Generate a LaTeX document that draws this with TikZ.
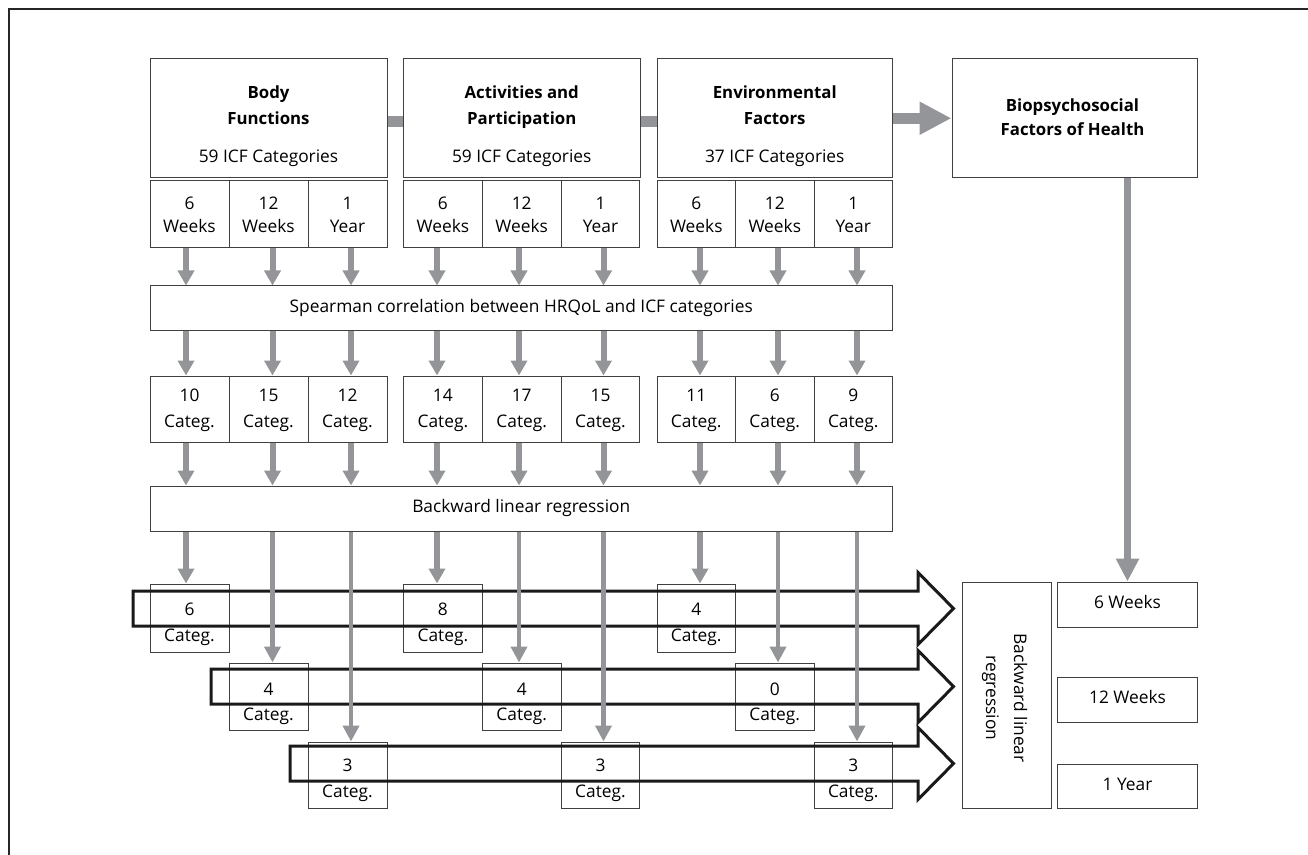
\documentclass[tikz,border=0pt]{standalone}
\usepackage{fontspec}
\setmainfont{Open Sans}
\usetikzlibrary{arrows.meta,calc}
\newlength\pxu
\setlength\pxu{0.75pt}
\definecolor{arrowgray}{RGB}{147,149,152}
\definecolor{boxline}{RGB}{64,64,64}
\definecolor{bigline}{RGB}{26,26,26}
\begin{document}
\begin{tikzpicture}[x=0.75pt,y=-0.75pt,
  box/.style={draw=boxline, line width=1\pxu, inner sep=0pt},
  txt/.style={inner sep=0pt, text height=0.72em, text depth=0pt, font=\fontsize{13}{15}\selectfont},
  btxt/.style={inner sep=0pt, text height=0.72em, text depth=0pt, font=\fontsize{12.6}{15}\selectfont\bfseries},
  garrow/.style={draw=arrowgray, line width=4.5pt, -{Triangle[width=12pt,length=11.25pt]}},
  glong/.style={draw=arrowgray, line width=3.4pt, -{Triangle[width=12pt,length=12pt]}},
  gbar/.style={draw=arrowgray, line width=8.25pt},
  gbig/.style={draw=arrowgray, line width=8.25pt, -{Triangle[width=23.25pt,length=24pt]}},
  gbio/.style={draw=arrowgray, line width=5.25pt, -{Triangle[width=16.5pt,length=17.25pt]}},
  bigarrow/.style={draw=bigline, line width=2.25pt, line join=miter},
  frame/.style={draw=black!85, line width=1.5pt}
]
\useasboundingbox (0,0) rectangle (1308,855);
% outer frame (only left and top edges visible)
\draw[frame] (8.5,855) -- (8.5,9.5) -- (1308,9.5);

% top boxes
\node[box, minimum width=237\pxu, minimum height=119.5\pxu] (bf) at (268.5,118.25) {};
\node[box, minimum width=236.5\pxu, minimum height=119.5\pxu] (ap) at (521.75,118.25) {};
\node[box, minimum width=235.5\pxu, minimum height=119.5\pxu] (ef) at (774.75,118.25) {};
\node[box, minimum width=245\pxu, minimum height=119.5\pxu] (bio) at (1074.5,118.25) {};

\node[btxt] (bf1) at (268.5,94) {Body};
\node[btxt] (bf2) at (268.5,120) {Functions};
\node[txt]  (bf3) at (268.5,157.5) {59 ICF Categories};
\node[btxt] (ap1) at (521.75,94) {Activities and};
\node[btxt] (ap2) at (521.75,120) {Participation};
\node[txt]  (ap3) at (521.75,157.5) {59 ICF Categories};
\node[btxt] (ef1) at (774.75,94) {Environmental};
\node[btxt] (ef2) at (774.75,120) {Factors};
\node[txt]  (ef3) at (774.75,157.5) {37 ICF Categories};
\node[btxt] (bio1) at (1072.5,106.5) {Biopsychosocial};
\node[btxt] (bio2) at (1072.5,131) {Factors of Health};

% connectors between top boxes
\draw[gbar] ($(bf.east)+(0,3)$) -- ($(ap.west)+(0,3)$);
\draw[gbar] ($(ap.east)+(0,3)$) -- ($(ef.west)+(0,3)$);
\draw[gbig] (ef.east) -- (bio.west);

% wide boxes
\node[box, minimum width=742.5\pxu, minimum height=44\pxu] (sp) at (521.25,308) {};
\node[txt] (spt) at (521.25,307.5) {Spearman correlation between HRQoL and ICF categories};
\node[box, minimum width=742.5\pxu, minimum height=45\pxu] (bl) at (521.25,508.5) {};
\node[txt] (blt) at (521.25,507.8) {Backward linear regression};

% column coordinates for arrows
\foreach \g/\xa/\xb/\xc in {b/186/272.5/351, a/437/519/603.5, e/700/778/857} {
  \coordinate (c\g1) at (\xa,0);
  \coordinate (c\g2) at (\xb,0);
  \coordinate (c\g3) at (\xc,0);
}

% time boxes and category boxes
\foreach \g/\L/\w/\na/\nb/\nc/\ra/\rb/\rc in {b/150/79/10/15/12/6/4/3, a/403.5/78.8/14/17/15/8/4/3, e/657/78.5/11/6/9/4/0/3} {
  \foreach \k/\ta/\tb/\cn/\rn/\ry/\rh/\rya/\ryb in {1/6/Weeks/\na/\ra/618/68/610.5/636.3, 2/12/Weeks/\nb/\rb/696.5/67/690.5/715.5, 3/1/Year/\nc/\rc/775/66/767/792.3} {
    \node[box, minimum width=\w\pxu, minimum height=67\pxu] (t\g\k) at ({\L+(\k-0.5)*\w},214.5) {};
    \node[txt] (t\g\k a) at ({\L+(\k-0.5)*\w},204.7) {\ta};
    \node[txt] (t\g\k b) at ({\L+(\k-0.5)*\w},228.2) {\tb};
    \node[box, minimum width=\w\pxu, minimum height=66\pxu] (k\g\k) at ({\L+(\k-0.5)*\w},409) {};
    \node[txt] (k\g\k a) at ({\L+(\k-0.5)*\w},397) {\cn};
    \node[txt] (k\g\k b) at ({\L+(\k-0.5)*\w},423) {Categ.};
    \node[box, minimum width=\w\pxu, minimum height=\rh\pxu] (r\g\k) at ({\L+(\k-0.5)*\w},\ry) {};
    \node[txt] (r\g\k a) at ({\L+(\k-0.5)*\w},\rya) {\rn};
    \node[txt] (r\g\k b) at ({\L+(\k-0.5)*\w},\ryb) {Categ.};
  }
}

% big outlined arrows
\foreach \c/\l in {608.5/133, 686.5/211, 763.5/290} {
  \draw[bigarrow] (\l,\c-17.5) -- (918,\c-17.5) -- (918,\c-36) -- (953.5,\c) -- (918,\c+36) -- (918,\c+17.5) -- (\l,\c+17.5) -- cycle;
}

% right column
\node[box, minimum width=89\pxu, minimum height=226\pxu] (brv) at (1006.5,695) {};
\node[txt, rotate=-90] (brv1) at (1019,698) {Backward linear};
\node[txt, rotate=-90] (brv2) at (991,698) {regression};
\node[box, minimum width=140\pxu, minimum height=45\pxu] (w6) at (1127.5,604.5) {};
\node[txt] (w6t) at (1127.5,604) {6 Weeks};
\node[box, minimum width=140\pxu, minimum height=45\pxu] (w12) at (1127.5,699.5) {};
\node[txt] (w12t) at (1127.5,699) {12 Weeks};
\node[box, minimum width=140\pxu, minimum height=44\pxu] (y1) at (1127.5,786) {};
\node[txt] (y1t) at (1127.5,785.5) {1 Year};
\coordinate (cR) at (1127.5,0);
\draw[gbio] (cR |- bio.south) -- (cR |- w6.north);

% gray arrows
\foreach \g in {b,a,e} {
  \foreach \k in {1,2,3} {
    \draw[garrow] (c\g\k |- t\g\k.south) -- (c\g\k |- sp.north);
    \draw[garrow] (c\g\k |- sp.south) -- (c\g\k |- k\g\k.north);
    \draw[garrow] (c\g\k |- k\g\k.south) -- (c\g\k |- bl.north);
  }
  \draw[garrow] (c\g1 |- bl.south) -- (c\g1 |- r\g1.north);
  \draw[glong] (c\g2 |- bl.south) -- (c\g2 |- r\g2.north);
  \draw[glong] (c\g3 |- bl.south) -- (c\g3 |- r\g3.north);
}
\end{tikzpicture}
\end{document}
